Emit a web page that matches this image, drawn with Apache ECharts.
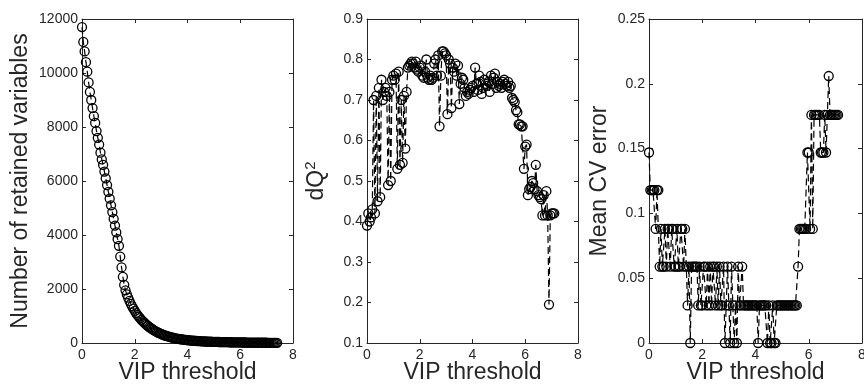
<!DOCTYPE html>
<html>
<head>
<meta charset="utf-8">
<script src="https://cdn.jsdelivr.net/npm/echarts@6/dist/echarts.min.js"></script>
<style>
html,body{margin:0;padding:0;background:#fff;}
#chart{width:864px;height:384px;}
</style>
</head>
<body>
<div id="chart"></div>
<script>
// VIP thresholds (x values)
const vipThreshold = [
0,0.05,0.1,0.15,0.2,0.25,0.3,0.35,0.4,0.45,
0.5,0.55,0.6,0.65,0.7,0.75,0.8,0.85,0.9,0.95,
1,1.05,1.1,1.15,1.2,1.25,1.3,1.35,1.4,1.45,
1.5,1.55,1.6,1.65,1.7,1.75,1.8,1.85,1.9,1.95,
2,2.05,2.1,2.15,2.2,2.25,2.3,2.35,2.4,2.45,
2.5,2.55,2.6,2.65,2.7,2.75,2.8,2.85,2.9,2.95,
3,3.05,3.1,3.15,3.2,3.25,3.3,3.35,3.4,3.45,
3.5,3.55,3.6,3.65,3.7,3.75,3.8,3.85,3.9,3.95,
4,4.05,4.1,4.15,4.2,4.25,4.3,4.35,4.4,4.45,
4.5,4.55,4.6,4.65,4.7,4.75,4.8,4.85,4.9,4.95,
5,5.05,5.1,5.15,5.2,5.25,5.3,5.35,5.4,5.45,
5.5,5.55,5.6,5.65,5.7,5.75,5.8,5.85,5.9,5.95,
6,6.05,6.1,6.15,6.2,6.25,6.3,6.35,6.4,6.45,
6.5,6.55,6.6,6.65,6.7,6.75,6.8,6.85,6.9,6.95,
7,7.05,7.1,7.15,7.2,7.25,7.3,7.35,7.4
];
// Number of retained variables
const retainedVariables = [
11700,11150,10800,10400,10050,9650,9300,9000,8700,8400,
8150,7850,7600,7350,7050,6800,6600,6350,6100,5850,
5600,5350,5100,4850,4600,4350,4100,3850,3600,3200,
2800,2450,2150,1950,1800,1680,1560,1450,1360,1270,
1190,1110,1040,980,920,860,810,760,715,670,
630,590,555,520,490,460,430,405,380,355,
335,315,295,278,262,247,233,220,207,195,
184,174,164,155,147,139,132,125,118,112,
106,101,96,91,87,83,79,75,72,69,
66,63,60,58,55,53,51,49,47,45,
43,42,40,39,37,36,35,33,32,31,
30,29,28,27,26,25,24,23,22,22,
21,20,19,19,18,17,17,16,15,15,
14,13,13,12,12,11,11,10,10,9,
9,8,8,7,7,6,6,5,5
];
// dQ^2
const dQ2 = [
0.39,0.42,0.40,0.41,0.43,0.70,0.42,0.71,0.45,0.73,
0.46,0.75,0.70,0.72,0.73,0.71,0.49,0.72,0.50,0.75,
0.76,0.75,0.765,0.53,0.77,0.54,0.70,0.545,0.71,0.58,
0.72,0.78,0.785,0.79,0.795,0.79,0.78,0.795,0.775,0.77,
0.78,0.785,0.76,0.755,0.77,0.80,0.755,0.75,0.76,0.75,
0.755,0.79,0.80,0.76,0.81,0.635,0.76,0.82,0.82,0.815,
0.81,0.665,0.80,0.79,0.68,0.78,0.77,0.79,0.76,0.785,
0.69,0.74,0.755,0.75,0.73,0.71,0.72,0.715,0.725,0.73,
0.735,0.72,0.78,0.74,0.725,0.76,0.745,0.715,0.73,0.75,
0.74,0.735,0.745,0.72,0.76,0.74,0.755,0.765,0.73,0.745,
0.735,0.74,0.73,0.745,0.75,0.74,0.735,0.745,0.73,0.735,
0.705,0.70,0.695,0.675,0.67,0.64,0.64,0.635,0.635,0.53,
0.585,0.59,0.465,0.48,0.485,0.50,0.495,0.48,0.54,0.475,
0.465,0.46,0.455,0.415,0.465,0.415,0.475,0.415,0.195,0.415,
0.42,0.42,0.42
];
// Mean CV error
const meanCVError = [
0.147,0.118,0.118,0.118,0.118,0.088,0.118,0.118,0.059,0.088,
0.059,0.059,0.088,0.059,0.088,0.088,0.059,0.088,0.088,0.059,
0.059,0.088,0.059,0.059,0.088,0.088,0.059,0.088,0.059,0.029,
0.059,0.000,0.059,0.059,0.059,0.059,0.059,0.029,0.059,0.029,
0.029,0.059,0.059,0.029,0.059,0.029,0.059,0.029,0.059,0.059,
0.029,0.059,0.029,0.059,0.029,0.029,0.059,0.000,0.029,0.059,
0.029,0.000,0.059,0.029,0.000,0.029,0.000,0.059,0.029,0.029,
0.059,0.029,0.029,0.029,0.029,0.029,0.029,0.029,0.029,0.029,
0.029,0.029,0.000,0.029,0.029,0.029,0.029,0.029,0.029,0.000,
0.029,0.000,0.000,0.029,0.000,0.000,0.029,0.029,0.029,0.029,
0.029,0.029,0.029,0.029,0.029,0.029,0.029,0.029,0.029,0.029,
0.029,0.029,0.059,0.088,0.088,0.088,0.088,0.088,0.088,0.147,
0.147,0.088,0.176,0.088,0.176,0.176,0.176,0.176,0.176,0.147,
0.147,0.147,0.176,0.147,0.176,0.206,0.176,0.176,0.176,0.176,
0.176,0.176,0.176
];
const xTicks = {min: 0, max: 8, interval: 2};
const yRanges = [
  {min: 0, max: 12000, interval: 2000},
  {min: 0.1, max: 0.9, interval: 0.1},
  {min: 0, max: 0.25, interval: 0.05}
];
const yNames = ['Number of retained variables', 'dQ{sup|2}', 'Mean CV error'];
const xName = 'VIP threshold';
const seriesValues = [retainedVariables, dQ2, meanCVError];

const FONT = 'Liberation Sans, Arial, Helvetica, sans-serif';
const AX = '#262626';
const grids = [
  {left: 82, top: 19, width: 211, height: 324, outerBoundsMode: 'none', containLabel: false},
  {left: 367, top: 19, width: 211, height: 324, outerBoundsMode: 'none', containLabel: false},
  {left: 649, top: 19, width: 213, height: 324, outerBoundsMode: 'none', containLabel: false}
];
const yGaps = [50, 37, 38];

const xAxes = [], yAxes = [], series = [];
grids.forEach((g, i) => {
  const lineSt = {show: true, lineStyle: {color: AX, width: 1}};
  const tick = {show: true, inside: true, length: 4, lineStyle: {color: AX, width: 1}};
  xAxes.push({
    gridIndex: i, type: 'value', position: 'bottom', ...xTicks,
    axisLine: {...lineSt, onZero: false}, axisTick: tick, splitLine: {show: false},
    axisLabel: {color: AX, fontFamily: FONT, fontSize: 14, margin: 5},
    name: xName, nameLocation: 'middle', nameGap: 18, nameMoveOverlap: false,
    nameTextStyle: {color: AX, fontFamily: FONT, fontSize: 23}
  });
  xAxes.push({
    gridIndex: i, type: 'value', position: 'top', ...xTicks,
    axisLine: {...lineSt, onZero: false}, axisTick: tick, splitLine: {show: false},
    axisLabel: {show: false}
  });
  yAxes.push({
    gridIndex: i, type: 'value', position: 'left', ...yRanges[i],
    axisLine: {...lineSt, onZero: false}, axisTick: tick, splitLine: {show: false},
    axisLabel: {color: AX, fontFamily: FONT, fontSize: 14, margin: 4,
      formatter: v => String(+v.toFixed(4))},
    name: yNames[i], nameLocation: 'middle', nameGap: yGaps[i],
    nameTextStyle: {color: AX, fontFamily: FONT, fontSize: 23,
      rich: {sup: {fontSize: 15, fontFamily: FONT, color: AX, verticalAlign: 'top', padding: [0, 0, 12, 0]}}}
  });
  yAxes.push({
    gridIndex: i, type: 'value', position: 'right', ...yRanges[i],
    axisLine: {...lineSt, onZero: false}, axisTick: tick, splitLine: {show: false},
    axisLabel: {show: false}
  });
  const vals = seriesValues[i];
  series.push({
    type: 'line', xAxisIndex: 2 * i, yAxisIndex: 2 * i,
    data: vals.map((v, k) => [vipThreshold[k], v]),
    symbol: 'circle', symbolSize: 9, showAllSymbol: true,
    itemStyle: {color: 'rgba(0,0,0,0)', borderColor: '#000', borderWidth: 1.3},
    lineStyle: {color: '#000', width: 1.2, type: [7, 4]},
    emphasis: {disabled: true}, silent: true
  });
});

const chart = echarts.init(document.getElementById('chart'), null, {renderer: 'canvas'});
chart.setOption({
  animation: false,
  backgroundColor: '#fff',
  grid: grids,
  xAxis: xAxes,
  yAxis: yAxes,
  series: series
});
</script>
</body>
</html>
